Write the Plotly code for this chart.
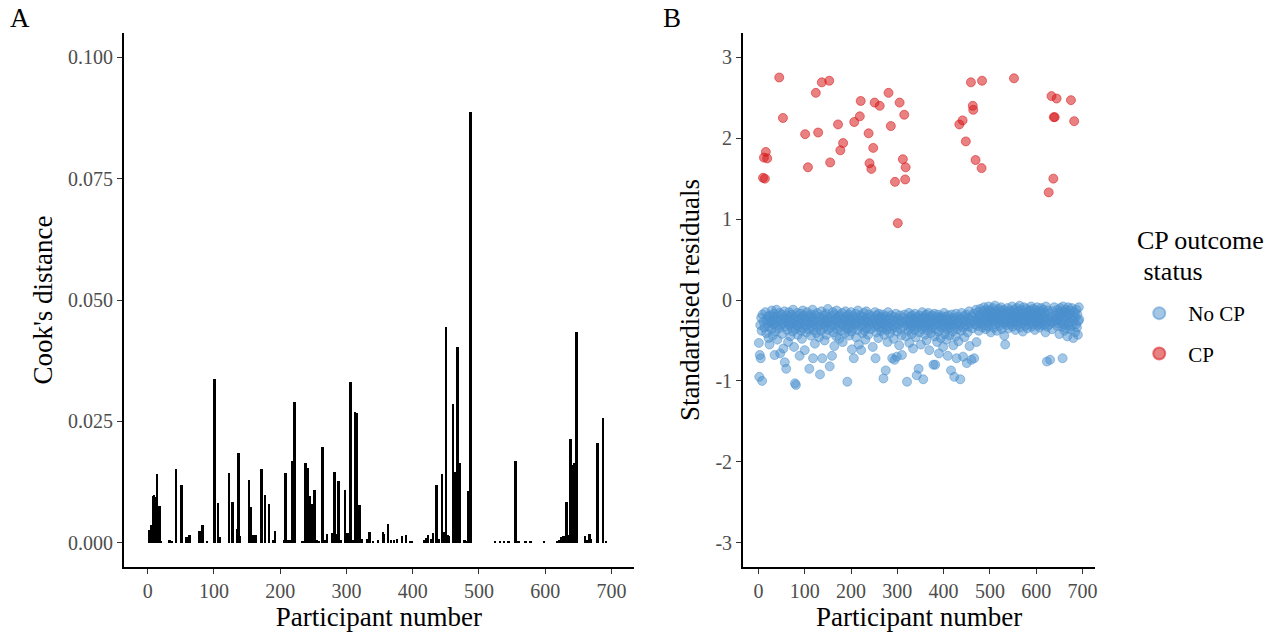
import plotly.graph_objects as go

# ---------------- data ----------------
participants_total = 693

# CP participants (red points) and their standardised residuals
cp_ids = [10, 12, 14, 16, 19, 45, 53, 101, 107, 124, 129, 137, 153, 155, 172, 177, 183,
          207, 219, 221, 238, 240, 244, 248, 251, 262, 281, 286, 295, 301, 305, 312, 315,
          317, 318, 434, 441, 448, 459, 463, 464, 469, 482, 483, 552, 627, 633, 637, 638,
          640, 644, 675, 682]
cp_resid = [1.51, 1.76, 1.50, 1.83, 1.75, 2.75, 2.25, 2.05, 1.64, 2.56, 2.07, 2.69, 2.71,
            1.70, 2.17, 1.85, 1.94, 2.20, 2.27, 2.46, 2.06, 1.69, 1.62, 1.88, 2.44, 2.40,
            2.56, 2.15, 1.46, 0.95, 2.44, 1.74, 2.29, 1.49, 1.64, 2.17, 2.22, 1.96, 2.69,
            2.40, 2.35, 1.73, 1.63, 2.71, 2.74, 1.33, 2.52, 1.50, 2.26, 2.26, 2.49, 2.47,
            2.21]

# No-CP participants (all other participant numbers, ascending) residuals
no_cp_resid = [
    -0.53, -0.95, -0.68, -0.31, -0.72, -0.22, -0.38, -1.00, -0.18, -0.27, -0.34, -0.15, -0.41, -0.24, -0.29, -0.20, -0.47, -0.33, -0.55, -0.26,
    -0.19, -0.28, -0.36, -0.13, -0.25, -0.44, -0.21, -0.30, -0.17, -0.68, -0.26, -0.39, -0.23, -0.12, -0.32, -0.49, -0.20, -0.27, -0.35, -0.16,
    -0.66, -0.24, -0.31, -0.18, -0.42, -0.29, -0.60, -0.22, -0.14, -0.77, -0.33, -0.26, -0.85, -0.19, -0.37, -0.23, -0.52, -0.28, -0.15, -0.31,
    -0.21, -0.45, -0.27, -0.34, -0.18, -0.24, -0.39, -0.12, -0.29, -0.58, -0.22, -1.03, -0.36, -1.05, -0.20, -0.31, -0.16, -0.43, -0.26, -0.33,
    -0.23, -0.69, -0.30, -0.17, -0.38, -0.25, -0.48, -0.21, -0.13, -0.35, -0.28, -0.19, -0.62, -0.32, -0.24, -0.40, -0.15, -0.27, -0.36, -0.20,
    -0.85, -0.29, -0.22, -0.44, -0.18, -0.33, -0.26, -0.12, -0.72, -0.37, -0.23, -0.30, -0.54, -0.19, -0.41, -0.27, -0.16, -0.34, -0.25, -0.46,
    -0.21, -0.92, -0.31, -0.38, -0.14, -0.72, -0.28, -0.23, -0.35, -0.19, -0.50, -0.26, -0.32, -0.17, -0.43, -0.24, -0.29, -0.11, -0.37, -0.22,
    -0.82, -0.27, -0.34, -0.20, -0.69, -0.31, -0.15, -0.40, -0.25, -0.57, -0.18, -0.30, -0.23, -0.45, -0.13, -0.36, -0.26, -0.21, -0.33, -0.48,
    -0.19, -0.29, -0.38, -0.24, -0.16, -0.52, -0.31, -0.22, -0.27, -0.41, -0.14, -0.34, -0.25, -0.20, -1.01, -0.30, -0.36, -0.18, -0.44, -0.26,
    -0.23, -0.32, -0.15, -0.39, -0.61, -0.27, -0.20, -0.35, -0.72, -0.24, -0.29, -0.17, -0.46, -0.31, -0.22, -0.37, -0.13, -0.28, -0.55, -0.25,
    -0.19, -0.62, -0.33, -0.26, -0.41, -0.21, -0.30, -0.16, -0.38, -0.24, -0.49, -0.28, -0.14, -0.35, -0.22, -0.27, -0.43, -0.18, -0.31, -0.25,
    -0.36, -0.20, -0.29, -0.58, -0.23, -0.33, -0.15, -0.72, -0.27, -0.40, -0.19, -0.31, -0.24, -0.47, -0.17, -0.34, -0.26, -0.21, -0.38, -0.29,
    -0.22, -0.35, -0.18, -0.97, -0.28, -0.43, -0.24, -0.31, -0.87, -0.20, -0.37, -0.26, -0.52, -0.15, -0.33, -0.23, -0.41, -0.29, -0.19, -0.36,
    -0.72, -0.25, -0.31, -0.48, -0.21, -0.74, -0.34, -0.17, -0.27, -0.70, -0.39, -0.23, -0.30, -0.56, -0.19, -0.36, -0.26, -0.44, -0.68, -0.28,
    -0.22, -0.33, -0.18, -0.45, -0.27, -1.01, -0.31, -0.24, -0.38, -0.16, -0.53, -0.29, -0.21, -0.35, -0.25, -0.42, -0.19, -0.32, -0.60, -0.27,
    -0.23, -0.37, -0.17, -0.30, -0.46, -0.26, -0.93, -0.21, -0.34, -0.28, -0.85, -0.19, -0.40, -0.25, -0.31, -0.55, -0.22, -0.36, -0.15, -0.29,
    -0.98, -0.24, -0.33, -0.20, -0.43, -0.27, -0.18, -0.50, -0.31, -0.23, -0.38, -0.16, -0.29, -0.62, -0.25, -0.35, -0.21, -0.41, -0.28, -0.19,
    -0.34, -0.24, -0.80, -0.30, -0.17, -0.45, -0.80, -0.26, -0.36, -0.21, -0.52, -0.29, -0.18, -0.39, -0.66, -0.25, -0.32, -0.22, -0.47, -0.27,
    -0.20, -0.35, -0.24, -0.58, -0.30, -0.16, -0.42, -0.27, -0.33, -0.21, -0.49, -0.25, -0.37, -0.69, -0.19, -0.31, -0.28, -0.44, -0.23, -0.34,
    -0.87, -0.26, -0.18, -0.39, -0.30, -0.56, -0.22, -0.95, -0.33, -0.25, -0.45, -0.17, -0.72, -0.29, -0.36, -0.21, -0.51, -0.27, -0.32, -0.98,
    -0.23, -0.38, -0.16, -0.28, -0.70, -0.34, -0.20, -0.46, -0.25, -0.31, -0.18, -0.78, -0.27, -0.40, -0.22, -0.33, -0.14, -0.57, -0.29, -0.24,
    -0.74, -0.20, -0.35, -0.17, -0.72, -0.26, -0.30, -0.12, -0.52, -0.23, -0.32, -0.15, -0.27, -0.38, -0.19, -0.24, -0.11, -0.29, -0.21, -0.34,
    -0.14, -0.25, -0.09, -0.31, -0.18, -0.22, -0.36, -0.12, -0.27, -0.16, -0.20, -0.33, -0.08, -0.24, -0.29, -0.13, -0.19, -0.40, -0.23, -0.15,
    -0.27, -0.10, -0.21, -0.34, -0.17, -0.25, -0.07, -0.30, -0.19, -0.13, -0.38, -0.23, -0.16, -0.28, -0.11, -0.22, -0.32, -0.18, -0.26, -0.09,
    -0.20, -0.36, -0.14, -0.24, -0.29, -0.12, -0.44, -0.19, -0.55, -0.27, -0.16, -0.31, -0.22, -0.10, -0.25, -0.35, -0.18, -0.28, -0.13, -0.21,
    -0.30, -0.15, -0.24, -0.08, -0.33, -0.19, -0.27, -0.12, -0.22, -0.37, -0.17, -0.26, -0.10, -0.31, -0.20, -0.14, -0.28, -0.23, -0.07, -0.34,
    -0.18, -0.25, -0.12, -0.29, -0.21, -0.39, -0.15, -0.27, -0.09, -0.23, -0.32, -0.17, -0.26, -0.11, -0.20, -0.35, -0.24, -0.14, -0.30, -0.19,
    -0.13, -0.28, -0.22, -0.08, -0.33, -0.18, -0.25, -0.11, -0.30, -0.16, -0.21, -0.37, -0.12, -0.27, -0.19, -0.24, -0.09, -0.31, -0.15, -0.26,
    -0.20, -0.34, -0.14, -0.23, -0.29, -0.10, -0.31, -0.18, -0.26, -0.12, -0.22, -0.31, -0.16, -0.22, -0.40, -0.08, -0.27, -0.76, -0.33, -0.13,
    -0.24, -0.17, -0.30, -0.74, -0.26, -0.21, -0.36, -0.14, -0.28, -0.09, -0.25, -0.19, -0.25, -0.32, -0.12, -0.23, -0.16, -0.29, -0.42, -0.20,
    -0.10, -0.27, -0.18, -0.33, -0.14, -0.72, -0.08, -0.30, -0.21, -0.38, -0.15, -0.26, -0.12, -0.35, -0.19, -0.45, -0.23, -0.09, -0.31, -0.17,
    -0.28, -0.13, -0.36, -0.22, -0.10, -0.32, -0.19, -0.47, -0.25, -0.15, -0.40, -0.21, -0.30, -0.12, -0.34, -0.18, -0.43, -0.26, -0.09, -0.24,
]

# Cook's distance (participants with a visible bar)
cook_ids = [2, 5, 8, 10, 12, 14, 18, 20, 33, 37, 43, 51, 59, 63, 78, 83, 90, 101, 106, 109,
            123, 128, 135, 137, 139, 153, 155, 158, 163, 172, 177, 183, 190, 192, 206, 208,
            212, 216, 219, 222, 234, 238, 241, 244, 247, 249, 252, 256, 259, 264, 268, 271,
            278, 282, 284, 288, 291, 298, 301, 303, 306, 310, 313, 316, 320, 323, 331, 335,
            340, 348, 355, 357, 363, 367, 372, 376, 384, 390, 396, 399, 418, 421, 423, 428,
            431, 436, 439, 444, 447, 450, 453, 455, 461, 464, 466, 468, 471, 478, 481, 484,
            487, 524, 532, 538, 545, 555, 560, 570, 578, 598, 618, 621, 625, 628, 632, 635,
            638, 641, 644, 647, 660, 663, 667, 669, 679, 687, 692]
cook_vals = [0.0027, 0.0036, 0.0097, 0.0098, 0.0095, 0.0142, 0.0075, 0.0004, 0.0005, 0.0003,
             0.0152, 0.0118, 0.0012, 0.0015, 0.0024, 0.0036, 0.0004, 0.0337, 0.0081, 0.0012,
             0.0143, 0.0084, 0.0028, 0.0185, 0.0013, 0.0130, 0.0074, 0.0015, 0.0016, 0.0151,
             0.0099, 0.0079, 0.0006, 0.0024, 0.0006, 0.0143, 0.0006, 0.0005, 0.0169, 0.0290,
             0.0004, 0.0165, 0.0153, 0.0097, 0.0080, 0.0077, 0.0109, 0.0006, 0.0003, 0.0198,
             0.0005, 0.0018, 0.0020, 0.0145, 0.0018, 0.0127, 0.0005, 0.0109, 0.0020, 0.0020,
             0.0331, 0.0006, 0.0270, 0.0267, 0.0078, 0.0008, 0.0008, 0.0023, 0.0004, 0.0006,
             0.0022, 0.0017, 0.0039, 0.0005, 0.0005, 0.0007, 0.0013, 0.0015, 0.0004, 0.0004,
             0.0005, 0.0009, 0.0015, 0.0008, 0.0020, 0.0118, 0.0008, 0.0141, 0.0022, 0.0445,
             0.0015, 0.0014, 0.0286, 0.0146, 0.0025, 0.0403, 0.0165, 0.0005, 0.0003, 0.0107,
             0.0887, 0.0002, 0.0003, 0.0003, 0.0004, 0.0168, 0.0004, 0.0002, 0.0002, 0.0003,
             0.0003, 0.0006, 0.0012, 0.0014, 0.0084, 0.0015, 0.0213, 0.0161, 0.0165, 0.0435,
             0.0013, 0.0005, 0.0019, 0.0007, 0.0206, 0.0256, 0.0002]

x_ticks = [0, 100, 200, 300, 400, 500, 600, 700]
x_tick_labels = ["0", "100", "200", "300", "400", "500", "600", "700"]
cook_ticks = [0.0, 0.025, 0.05, 0.075, 0.1]
cook_tick_labels = ["0.000", "0.025", "0.050", "0.075", "0.100"]
resid_ticks = [-3, -2, -1, 0, 1, 2, 3]
resid_tick_labels = ["-3", "-2", "-1", "0", "1", "2", "3"]
legend_title_lines = ["CP outcome", "\u00a0status"]

no_cp_ids = [p for p in range(1, participants_total + 1) if p not in set(cp_ids)]
n_blue = min(len(no_cp_ids), len(no_cp_resid))

# ---------------- styling ----------------
FONT = "Liberation Serif"
TICK_COL = "#4D4D4D"
BLUE = "rgba(74,144,206,0.5)"
RED = "rgba(215,25,28,0.55)"
W, H = 1286, 632
ML, MR, MT, MB = 0, 0, 33, 65
PH = H - MT - MB


def py(pix):
    """pixel row (from top) -> paper y"""
    return (H - MB - pix) / PH


fig = go.Figure()

fig.add_trace(go.Bar(
    x=cook_ids, y=cook_vals, width=3, marker=dict(color="black", line=dict(width=0)),
    xaxis="x", yaxis="y", showlegend=False, hoverinfo="x+y"))

fig.add_trace(go.Scatter(
    x=no_cp_ids[:n_blue], y=no_cp_resid[:n_blue], mode="markers", name="No CP",
    legendgroup="a",
    marker=dict(size=9, color=BLUE, line=dict(width=1, color=BLUE)),
    xaxis="x2", yaxis="y2"))

fig.add_trace(go.Scatter(
    x=cp_ids, y=cp_resid, mode="markers", name="CP", legendgroup="b",
    marker=dict(size=9, color=RED, line=dict(width=1, color=RED)),
    xaxis="x2", yaxis="y2"))

axis_common = dict(
    showline=True, linecolor="black", linewidth=1.5, mirror=False,
    ticks="outside", ticklen=5, tickwidth=1.2, tickcolor="#333333",
    showgrid=False, zeroline=False,
    tickfont=dict(family=FONT, size=20, color=TICK_COL),
)

annotations = [
    dict(text="A", x=20 / W, y=py(18), xref="paper", yref="paper",
         showarrow=False, xanchor="center", yanchor="middle",
         font=dict(family=FONT, size=27, color="black")),
    dict(text="B", x=673 / W, y=py(18), xref="paper", yref="paper",
         showarrow=False, xanchor="center", yanchor="middle",
         font=dict(family=FONT, size=27, color="black")),
    dict(text=legend_title_lines[0], x=1137 / W, y=py(241), xref="paper", yref="paper",
         showarrow=False, xanchor="left", yanchor="middle",
         font=dict(family=FONT, size=26, color="black")),
    dict(text=legend_title_lines[1], x=1137 / W, y=py(271), xref="paper", yref="paper",
         showarrow=False, xanchor="left", yanchor="middle",
         font=dict(family=FONT, size=26, color="black")),
]

fig.update_layout(
    width=W, height=H,
    margin=dict(l=ML, r=MR, t=MT, b=MB),
    paper_bgcolor="white", plot_bgcolor="white",
    font=dict(family=FONT, color="black"),
    bargap=0,
    xaxis=dict(domain=[124 / W, 635 / W], range=[-36, 734], anchor="y",
               tickvals=x_ticks, ticktext=x_tick_labels,
               title=dict(text="Participant number", font=dict(family=FONT, size=27), standoff=2),
               **axis_common),
    yaxis=dict(domain=[0, 1], range=[-0.005, 0.105], anchor="x",
               tickvals=cook_ticks, ticktext=cook_tick_labels,
               title=dict(text="Cook's distance", font=dict(family=FONT, size=27), standoff=8),
               **axis_common),
    xaxis2=dict(domain=[744 / W, 1097 / W], range=[-33.6, 727.6], anchor="y2",
                tickvals=x_ticks, ticktext=x_tick_labels,
                title=dict(text="Participant number", font=dict(family=FONT, size=27), standoff=2),
                **axis_common),
    yaxis2=dict(domain=[0, 1], range=[-3.3, 3.3], anchor="x2",
                tickvals=resid_ticks, ticktext=resid_tick_labels,
                title=dict(text="Standardised residuals", font=dict(family=FONT, size=27), standoff=8),
                **axis_common),
    legend=dict(
        x=1132 / W, xanchor="left", y=py(293), yanchor="top",
        font=dict(family=FONT, size=21, color="black"),
        bgcolor="rgba(0,0,0,0)", tracegroupgap=10, itemsizing="constant",
        itemwidth=48,
    ),
    annotations=annotations,
)

fig.write_html("out.html")
